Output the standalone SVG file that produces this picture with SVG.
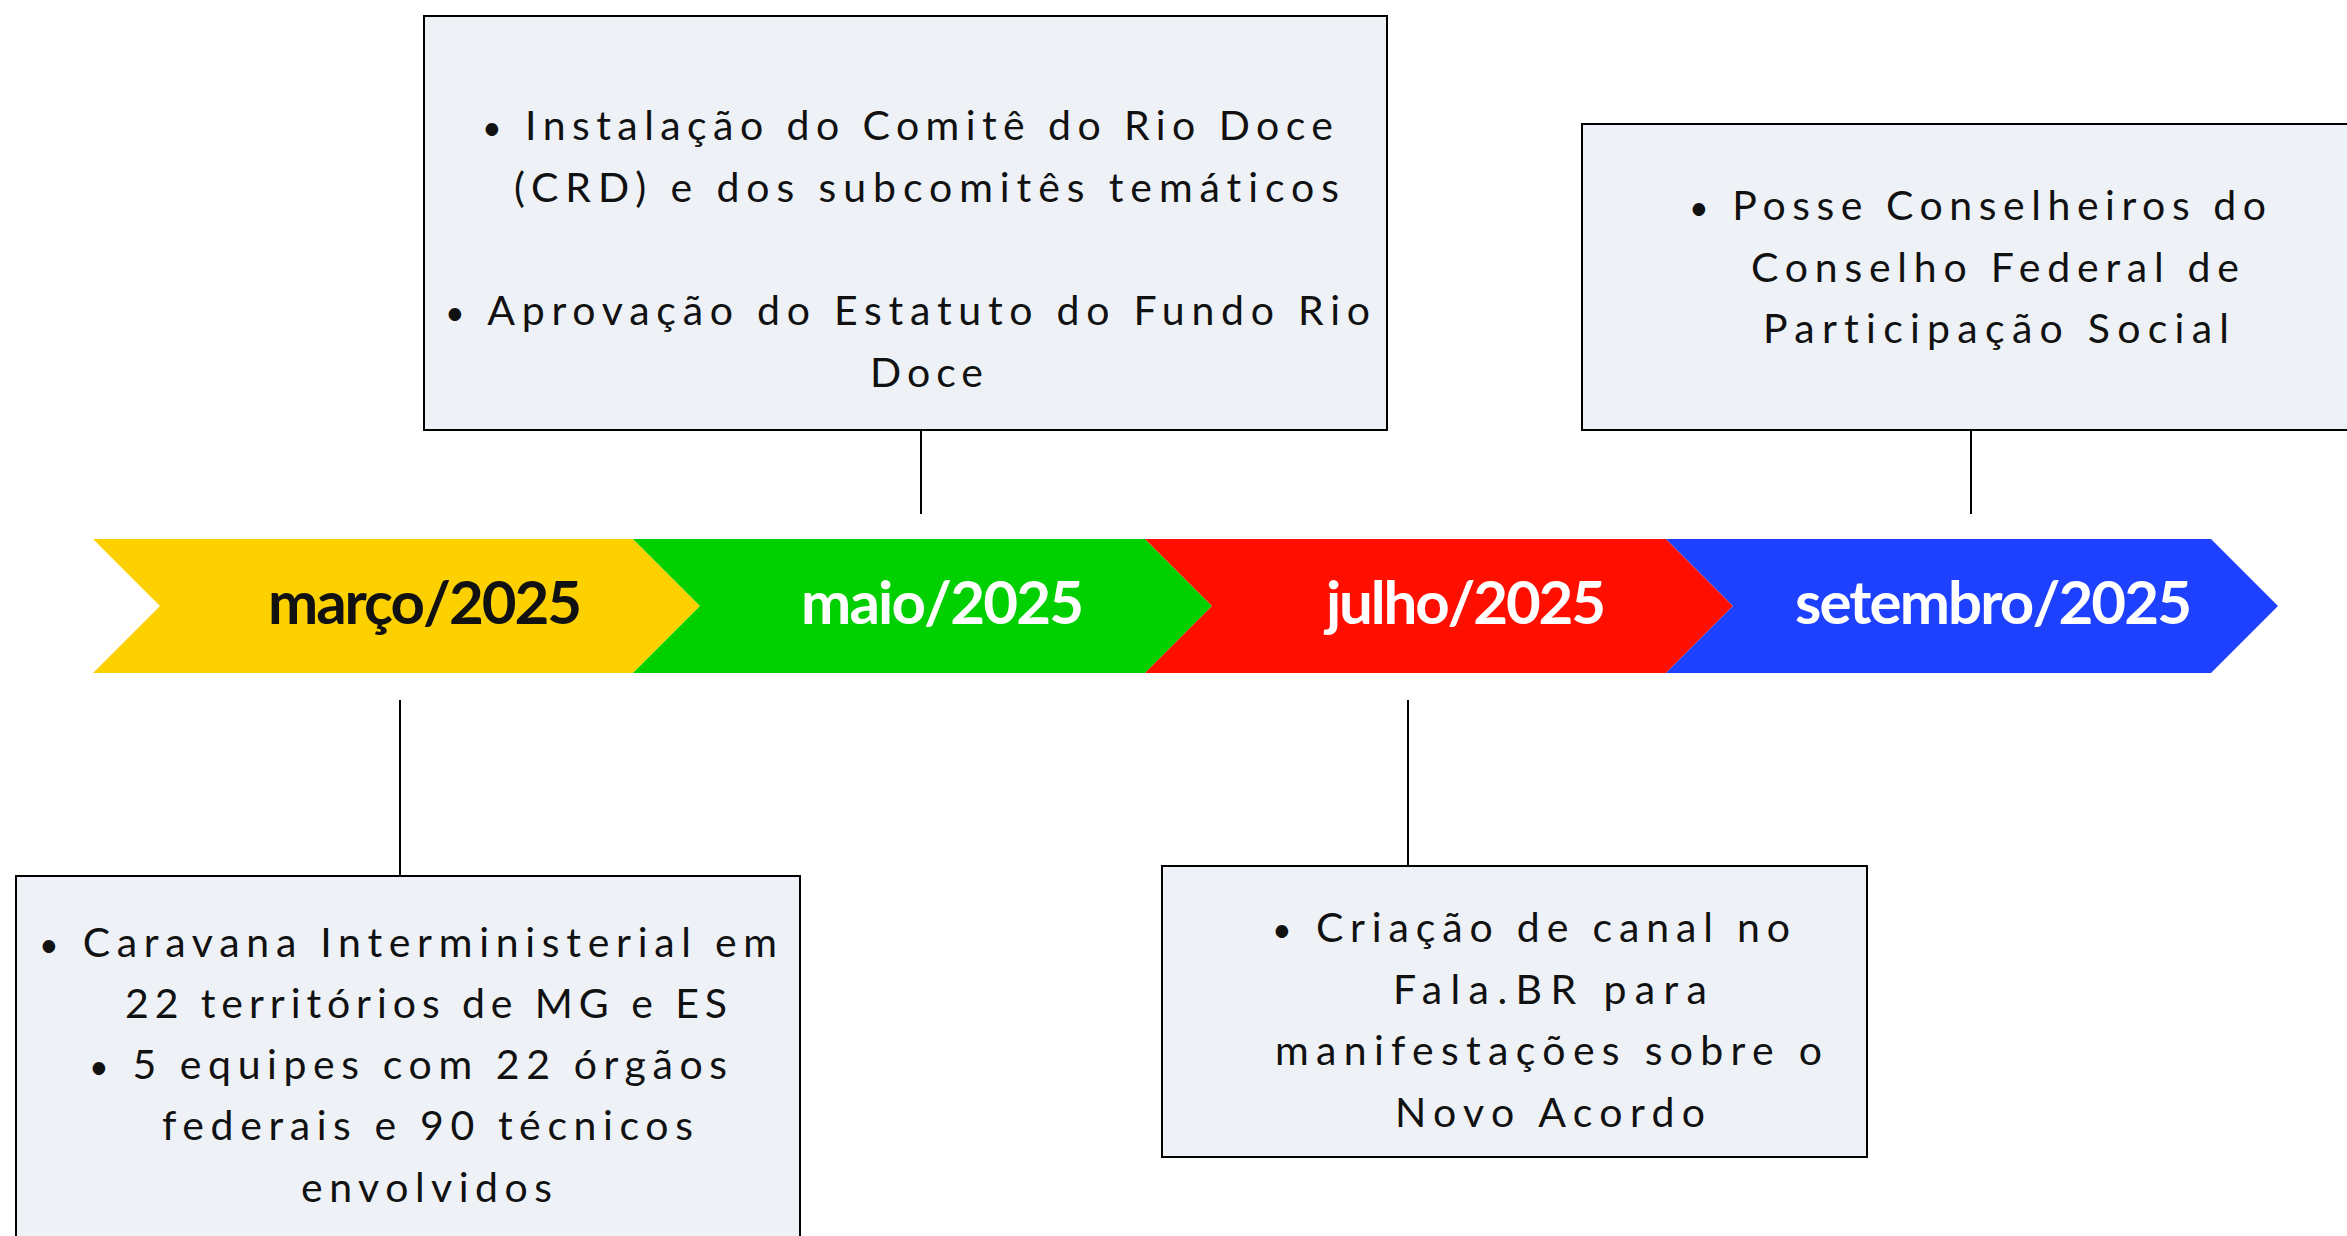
<svg xmlns="http://www.w3.org/2000/svg" width="2347" height="1236" viewBox="0 0 2347 1236">
<style>
.box{fill:#eef2f7;stroke:#000;stroke-width:2}
.bt{font-family:Lato,"Liberation Sans",sans-serif;font-size:41px;fill:#111;font-variant-ligatures:none;font-feature-settings:"liga" 0,"clig" 0}
.bt .bu{font-size:34px}
.lb{font-family:Lato,"Liberation Sans",sans-serif;font-size:60px;font-weight:700;}
.conn line{stroke:#000;stroke-width:2}
</style>
<rect width="2347" height="1236" fill="#fff"/>
<g id="timeline">
<g id="seg-marco">
<polygon points="93,539 633,539 700,606 633,673 93,673 160,606" fill="#fdd100"/>
<text class="lb" x="268" y="624" textLength="314" lengthAdjust="spacing" fill="#111">março/2025</text>
</g>
<g id="seg-maio">
<polygon points="633,539 1145,539 1212,606 1145,673 633,673 700,606" fill="#00d000"/>
<text class="lb" x="801" y="624" textLength="283" lengthAdjust="spacing" fill="#fff">maio/2025</text>
</g>
<g id="seg-julho">
<polygon points="1145,539 1666,539 1733,606 1666,673 1145,673 1212,606" fill="#fe0f00"/>
<text class="lb" x="1326" y="624" textLength="280" lengthAdjust="spacing" fill="#fff">julho/2025</text>
</g>
<g id="seg-setembro">
<polygon points="1666,539 2211,539 2278,606 2211,673 1666,673 1733,606" fill="#1e40ff"/>
<text class="lb" x="1795" y="624" textLength="397" lengthAdjust="spacing" fill="#fff">setembro/2025</text>
</g>
</g>
<g id="connectors" class="conn">
<line x1="921" y1="430" x2="921" y2="514"/>
<line x1="1971" y1="430" x2="1971" y2="514"/>
<line x1="400" y1="700" x2="400" y2="876"/>
<line x1="1408" y1="700" x2="1408" y2="866"/>
</g>
<g id="box-maio">
<rect class="box" x="424" y="16" width="963" height="414"/>
<text class="bt" x="482" y="140" textLength="851" lengthAdjust="spacing"><tspan class="bu">•</tspan> Instalação do Comitê do Rio Doce</text>
<text class="bt" x="514" y="202" textLength="825" lengthAdjust="spacing">(CRD) e dos subcomitês temáticos</text>
<text class="bt" x="445" y="325" textLength="925" lengthAdjust="spacing"><tspan class="bu">•</tspan> Aprovação do Estatuto do Fundo Rio</text>
<text class="bt" x="870" y="387" textLength="113" lengthAdjust="spacing">Doce</text>
</g>
<g id="box-setembro">
<rect class="box" x="1582" y="124" width="780" height="306"/>
<text class="bt" x="1689" y="220" textLength="577" lengthAdjust="spacing"><tspan class="bu">•</tspan> Posse Conselheiros do</text>
<text class="bt" x="1751" y="282" textLength="488" lengthAdjust="spacing">Conselho Federal de</text>
<text class="bt" x="1763" y="343" textLength="466" lengthAdjust="spacing">Participação Social</text>
</g>
<g id="box-marco">
<rect class="box" x="16" y="876" width="784" height="380"/>
<text class="bt" x="39" y="957" textLength="738" lengthAdjust="spacing"><tspan class="bu">•</tspan> Caravana Interministerial em</text>
<text class="bt" x="125" y="1018" textLength="602" lengthAdjust="spacing">22 territórios de MG e ES</text>
<text class="bt" x="89" y="1079" textLength="638" lengthAdjust="spacing"><tspan class="bu">•</tspan> 5 equipes com 22 órgãos</text>
<text class="bt" x="162" y="1140" textLength="531" lengthAdjust="spacing">federais e 90 técnicos</text>
<text class="bt" x="301" y="1202" textLength="251" lengthAdjust="spacing">envolvidos</text>
</g>
<g id="box-julho">
<rect class="box" x="1162" y="866" width="705" height="291"/>
<text class="bt" x="1272" y="942" textLength="518" lengthAdjust="spacing"><tspan class="bu">•</tspan> Criação de canal no</text>
<text class="bt" x="1393" y="1004" textLength="314" lengthAdjust="spacing">Fala.BR para</text>
<text class="bt" x="1275" y="1065" textLength="547" lengthAdjust="spacing">manifestações sobre o</text>
<text class="bt" x="1395" y="1127" textLength="310" lengthAdjust="spacing">Novo Acordo</text>
</g>
</svg>
